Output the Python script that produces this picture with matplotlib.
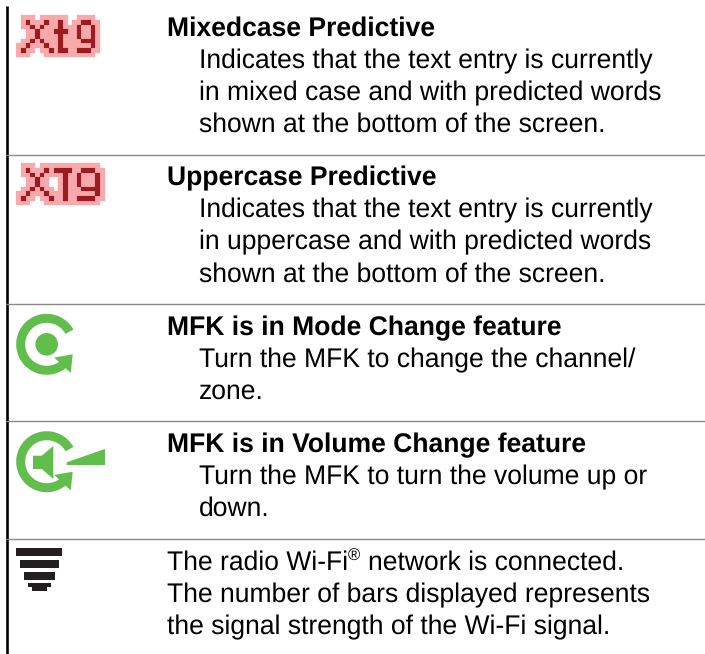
import numpy as np
import matplotlib
matplotlib.use("Agg")
import matplotlib.pyplot as plt
from matplotlib.patches import Wedge, Circle, Polygon, Rectangle

plt.rcParams['font.family'] = ['Liberation Sans', 'DejaVu Sans']
plt.rcParams['text.hinting'] = 'no_hinting'

# section text: baseline of heading, heading, body lines
headings = ["Mixedcase Predictive", "Uppercase Predictive",
            "MFK is in Mode Change feature", "MFK is in Volume Change feature"]
heading_y = [36, 185.5, 335, 452]
bodies = [["Indicates that the text entry is currently",
           "in mixed case and with predicted words",
           "shown at the bottom of the screen."],
          ["Indicates that the text entry is currently",
           "in uppercase and with predicted words",
           "shown at the bottom of the screen."],
          ["Turn the MFK to change the channel/",
           "zone."],
          ["Turn the MFK to turn the volume up or",
           "down."]]
wifi_lines = ["The number of bars displayed represents",
              "the signal strength of the Wi-Fi signal."]
divider_y = [155, 304, 421, 538.5]

# pixel font icons
xt9 = [".X...X..X....XX.",
       "..X.X...X...X..X",
       "...X...XXX..X..X",
       "...X....X...X..X",
       "..X.X...X....XXX",
       ".X...X..X......X",
       "X.....X.XX..XXX."]
xt9_upper = [".X...X.XXXX..XXX.",
             "..X.X....X..X...X",
             "...X.....X..X...X",
             "...X.....X..X...X",
             "..X.X....X...XXXX",
             ".X...X...X......X",
             "X.....X..X..XXXX."]

PINK = "#F8A9AC"
RED = "#9B1B21"
GREEN = "#61BD4C"
BLACK = "#231F20"
CELL = 4.65


def draw_pixels(ax, rows, x0, y0):
    grid = np.array([[c == "X" for c in r] for r in rows])
    padded = np.pad(grid, 1)
    halo = np.zeros_like(padded)
    for dy in (-1, 0, 1):
        for dx in (-1, 0, 1):
            halo |= np.roll(np.roll(padded, dy, axis=0), dx, axis=1)
    # close the small holes inside the letters
    holes = (np.roll(halo, 1, axis=0) & np.roll(halo, -1, axis=0)
             & np.roll(halo, 1, axis=1) & np.roll(halo, -1, axis=1))
    halo |= holes
    for (r, c), on in np.ndenumerate(halo):
        if on:
            ax.add_patch(Rectangle((x0 + (c - 1)*CELL, y0 + (r - 1)*CELL), CELL, CELL,
                                   fc=PINK, ec=PINK, lw=0.2))
    for (r, c), on in np.ndenumerate(grid):
        if on:
            ax.add_patch(Rectangle((x0 + c*CELL, y0 + r*CELL), CELL, CELL,
                                   fc=RED, ec=RED, lw=0.1))


def draw_ring(ax, cy):
    cx = 46.7
    ax.add_patch(Wedge((cx, cy), 30.5, 50, 331, width=9, fc=GREEN, ec="none"))
    ax.add_patch(Polygon([(54.3, cy + 13.3), (72.7, cy + 10), (70.7, cy + 28.7)], fc=GREEN, ec="none"))


fig = plt.figure(figsize=(7.05, 6.54), dpi=100)
ax = fig.add_axes([0, 0, 1, 1])
ax.axis("off")

# table rules
ax.plot([6.7, 6.7], [6, 654], color="black", lw=1.9, solid_capstyle="butt")
for y in divider_y:
    ax.plot([6, 705], [y, y], color="#8a8a8a", lw=1.0, solid_capstyle="butt")

# icons
draw_pixels(ax, xt9, 21, 20)
draw_pixels(ax, xt9_upper, 21, 168)

draw_ring(ax, 344.3)
ax.add_patch(Circle((46.7, 344.3), 11.3, fc=GREEN, ec="none"))

draw_ring(ax, 461.7)
ax.add_patch(Polygon([(33, 455.7), (41.7, 455.7), (53.3, 446), (53.3, 479), (41.7, 469), (33, 469)],
                     fc=GREEN, ec="none"))
ax.add_patch(Polygon([(66.7, 462.3), (105, 449), (105, 465), (66.7, 465)], fc=GREEN, ec="none"))

ax.add_patch(Rectangle((16, 548), 46, 8, fc=BLACK, ec="none"))
ax.add_patch(Rectangle((20, 560), 39, 8, fc=BLACK, ec="none"))
ax.add_patch(Rectangle((24, 572), 31, 8, fc=BLACK, ec="none"))
ax.add_patch(Rectangle((27.7, 583.3), 23.3, 3.7, fc=BLACK, ec="none"))
ax.add_patch(Rectangle((31.7, 587), 15.3, 4, fc=BLACK, ec="none"))

# text
FS = 19.1
for head, y, body in zip(headings, heading_y, bodies):
    ax.text(167, y, head, fontsize=FS, fontweight="bold", va="baseline", color="black")
    for i, line in enumerate(body):
        ax.text(199, y + 32*(i + 1), line, fontsize=FS, va="baseline", color="black")

ax.text(167, 570, "The radio Wi-Fi", fontsize=FS, va="baseline", color="black")
ax.text(348, 561, "®", fontsize=12, va="baseline", color="black")
ax.text(368, 570, "network is connected.", fontsize=FS, va="baseline", color="black")
for i, line in enumerate(wifi_lines):
    ax.text(167, 602 + 32*i, line, fontsize=FS, va="baseline", color="black")

ax.set_xlim(0, 705)
ax.set_ylim(654, 0)
fig.savefig("out.png", dpi=100)
